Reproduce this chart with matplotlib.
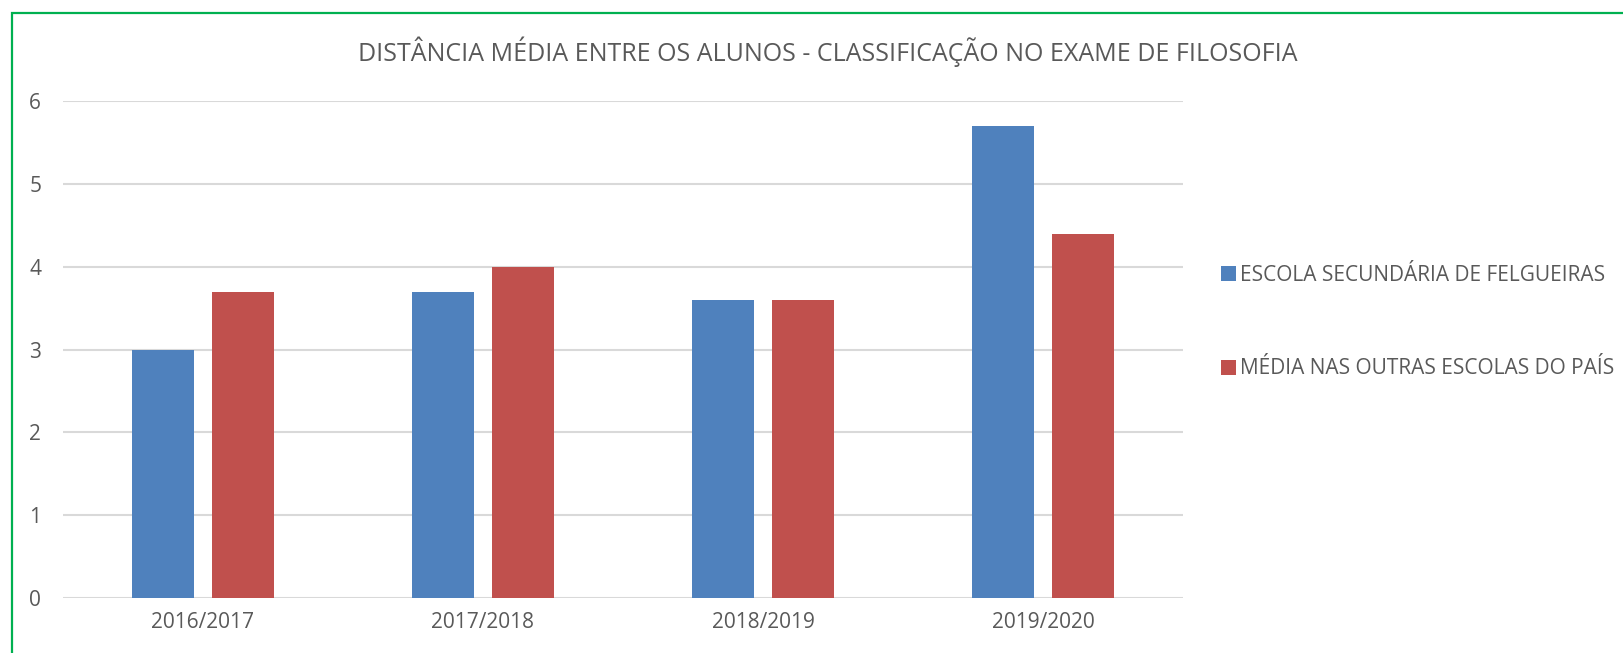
import matplotlib
matplotlib.use("Agg")
import matplotlib.pyplot as plt
import numpy as np
from matplotlib.patches import Rectangle

categories = ["2016/2017", "2017/2018", "2018/2019", "2019/2020"]
series_names = ["ESCOLA SECUNDÁRIA DE FELGUEIRAS", "MÉDIA NAS OUTRAS ESCOLAS DO PAÍS"]
felgueiras = [3.0, 3.7, 3.6, 5.7]
outras = [3.7, 4.0, 3.6, 4.4]
title = "DISTÂNCIA MÉDIA ENTRE OS ALUNOS - CLASSIFICAÇÃO NO EXAME DE FILOSOFIA"

W, H = 1623, 653
plt.rcParams["font.family"] = ["Open Sans", "DejaVu Sans"]
text_color = "#595959"

fig = plt.figure(figsize=(W / 100, H / 100), dpi=100)
fig.patch.set_facecolor("white")

# axes placement in pixels
left, right, top, bottom = 63, 1183, 101, 598
ax = fig.add_axes([left / W, 1 - bottom / H, (right - left) / W, (bottom - top) / H])

x = np.arange(len(categories))
bw = 0.222
off = 0.142
ax.bar(x - off, felgueiras, bw, color="#4f81bd", label=series_names[0], zorder=3)
ax.bar(x + off, outras, bw, color="#c0504d", label=series_names[1], zorder=3)

ax.set_xlim(-0.5, len(categories) - 0.5)
ax.set_ylim(0, 6)
ax.set_yticks(range(0, 7))
ax.set_xticks(x)
ax.set_xticklabels(categories)
ax.yaxis.grid(True, color="#d9d9d9", linewidth=1.5, zorder=0)
ax.set_axisbelow(True)
for s in ax.spines.values():
    s.set_visible(False)
ax.tick_params(axis="both", length=0, labelsize=15, labelcolor=text_color)
ax.tick_params(axis="y", pad=20)
ax.tick_params(axis="x", pad=10)
for lbl in ax.get_yticklabels():
    lbl.set_horizontalalignment("center")

fig.text(828 / W, 1 - 52 / H, title, ha="center", va="center",
         fontsize=18.0, color=text_color)

leg = fig.legend(loc="center left", bbox_to_anchor=(1202 / W, 1 - 322 / H),
                 frameon=False, fontsize=15, labelcolor=text_color,
                 handlelength=0.72, handleheight=0.72, handletextpad=0.2,
                 labelspacing=3.5)

# green frame around the chart area
fig.patches.append(Rectangle((11.5 / W, -0.1), 1.2, 1 - 13 / H + 0.1,
                             transform=fig.transFigure, fill=False,
                             edgecolor="#00b050", linewidth=1.6))

fig.savefig("out.png", dpi=100, facecolor="white")
